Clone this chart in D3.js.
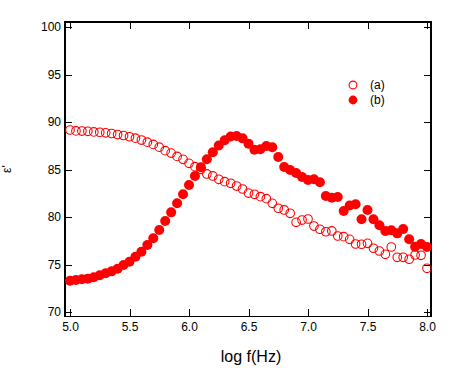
<!DOCTYPE html>
<html>
<head>
<meta charset="utf-8">
<script src="https://cdn.jsdelivr.net/npm/d3@7"></script>
<style>
  body { margin: 0; background: #fff; }
  text { font-family: "Liberation Sans", Arial, sans-serif; fill: #000; }
</style>
</head>
<body>
<svg id="chart" width="454" height="369"></svg>
<script>
// log f(Hz) values, 20 points per decade
const logF = [
  5.00, 5.05, 5.10, 5.15, 5.20, 5.25, 5.30, 5.35, 5.40, 5.45,
  5.50, 5.55, 5.60, 5.65, 5.70, 5.75, 5.80, 5.85, 5.90, 5.95,
  6.00, 6.05, 6.10, 6.15, 6.20, 6.25, 6.30, 6.35, 6.40, 6.45,
  6.50, 6.55, 6.60, 6.65, 6.70, 6.75, 6.80, 6.85, 6.90, 6.95,
  7.00, 7.05, 7.10, 7.15, 7.20, 7.25, 7.30, 7.35, 7.40, 7.45,
  7.50, 7.55, 7.60, 7.65, 7.70, 7.75, 7.80, 7.85, 7.90, 7.95,
  8.00
];

// series (a), open circles
const epsA = [
  89.16, 89.06, 89.05, 89.02, 88.96, 88.92, 88.86, 88.79, 88.68, 88.58,
  88.45, 88.30, 88.10, 87.88, 87.64, 87.35, 86.98, 86.73, 86.38, 86.07,
  85.65, 85.30, 85.02, 84.53, 84.32, 83.97, 83.72, 83.55, 83.26, 82.95,
  82.52, 82.39, 82.14, 81.93, 81.44, 80.92, 80.74, 80.39, 79.44, 79.68,
  79.79, 79.05, 78.71, 78.45, 78.53, 78.00, 77.93, 77.65, 77.16, 77.13,
  77.23, 76.71, 76.42, 76.07, 76.84, 75.76, 75.76, 75.55, 76.00, 75.97,
  74.60
];

// series (b), filled circles
const epsB = [
  73.29, 73.37, 73.44, 73.51, 73.65, 73.86, 74.07, 74.28, 74.56, 74.95,
  75.29, 75.82, 76.35, 77.05, 77.76, 78.63, 79.58, 80.49, 81.44, 82.39,
  83.37, 84.32, 85.25, 86.07, 86.82, 87.52, 88.08, 88.47, 88.53, 88.28,
  87.72, 87.08, 87.14, 87.47, 87.34, 86.32, 85.26, 84.95, 84.63, 84.21,
  83.89, 83.97, 83.65, 82.21, 82.02, 82.11, 80.63, 81.21, 81.35, 79.77,
  80.74, 79.77, 79.13, 78.53, 78.60, 78.28, 78.74, 77.66, 76.87, 77.16,
  76.84
];

const xTicks = [5.0, 5.5, 6.0, 6.5, 7.0, 7.5, 8.0];
const yTicks = [70, 75, 80, 85, 90, 95, 100];
const legendLabels = ["(a)", "(b)"];

const red = "#ff0000";
const svg = d3.select("#chart");

const x = d3.scaleLinear().domain([5, 8]).range([70, 427]);
const y = d3.scaleLinear().domain([70, 100]).range([312, 27]);

// plot frame (slightly wider than the tick range)
const fx0 = x(4.958), fx1 = x(8.034), fy0 = y(100.53), fy1 = y(69.55);

svg.append("rect")
  .attr("width", 454).attr("height", 369).attr("fill", "#fff");

svg.append("rect")
  .attr("x", fx0).attr("y", fy0)
  .attr("width", fx1 - fx0).attr("height", fy1 - fy0)
  .attr("fill", "none").attr("stroke", "#000").attr("stroke-width", 1.2)
  .attr("shape-rendering", "crispEdges");

function styleAxis(g) {
  g.select(".domain").remove();
  g.selectAll(".tick line").attr("stroke", "#000").attr("shape-rendering", "crispEdges");
  g.selectAll(".tick text")
    .attr("font-size", 12)
    .attr("font-family", "'Liberation Sans', Arial, sans-serif")
    .attr("fill", "#000");
}

// bottom
svg.append("g")
  .attr("transform", `translate(0,${fy1})`)
  .call(d3.axisBottom(x).tickValues(xTicks).tickFormat(d3.format(".1f"))
    .tickSizeInner(-7).tickSizeOuter(0).tickPadding(6))
  .call(styleAxis);

// top
svg.append("g")
  .attr("transform", `translate(0,${fy0})`)
  .call(d3.axisTop(x).tickValues(xTicks).tickFormat("")
    .tickSizeInner(-7).tickSizeOuter(0))
  .call(styleAxis);

// left
svg.append("g")
  .attr("transform", `translate(${fx0},0)`)
  .call(d3.axisLeft(y).tickValues(yTicks).tickFormat(d3.format("d"))
    .tickSizeInner(-7).tickSizeOuter(0).tickPadding(4))
  .call(styleAxis);

// right
svg.append("g")
  .attr("transform", `translate(${fx1},0)`)
  .call(d3.axisRight(y).tickValues(yTicks).tickFormat("")
    .tickSizeInner(-7).tickSizeOuter(0))
  .call(styleAxis);

// axis titles
svg.append("text")
  .attr("x", (fx0 + fx1) / 2 + 3).attr("y", 362)
  .attr("text-anchor", "middle")
  .attr("font-size", 16)
  .text("log f(Hz)");

svg.append("text")
  .attr("transform", `translate(10.5,${(fy0 + fy1) / 2}) rotate(-90)`)
  .attr("text-anchor", "middle")
  .attr("font-size", 12)
  .text("ε'");

// data
const ptsA = logF.map((f, i) => ({ f, v: epsA[i] }));
const ptsB = logF.map((f, i) => ({ f, v: epsB[i] }));

svg.append("g").selectAll("circle")
  .data(ptsA)
  .join("circle")
  .attr("cx", d => x(d.f))
  .attr("cy", d => y(d.v))
  .attr("r", 4.3)
  .attr("fill", "none")
  .attr("stroke", red)
  .attr("stroke-width", 1.1);

svg.append("g").selectAll("circle")
  .data(ptsB)
  .join("circle")
  .attr("cx", d => x(d.f))
  .attr("cy", d => y(d.v))
  .attr("r", 5)
  .attr("fill", red);

// legend
const legend = svg.append("g").attr("transform", "translate(353,85)");
legendLabels.forEach((lab, i) => {
  const row = legend.append("g").attr("transform", `translate(0,${i * 15})`);
  row.append("circle")
    .attr("r", i === 0 ? 3.9 : 4.4)
    .attr("fill", i === 0 ? "none" : red)
    .attr("stroke", i === 0 ? red : "none")
    .attr("stroke-width", 1.1);
  row.append("text")
    .attr("x", 17).attr("y", 4.3)
    .attr("font-size", 12)
    .text(lab);
});
</script>
</body>
</html>
